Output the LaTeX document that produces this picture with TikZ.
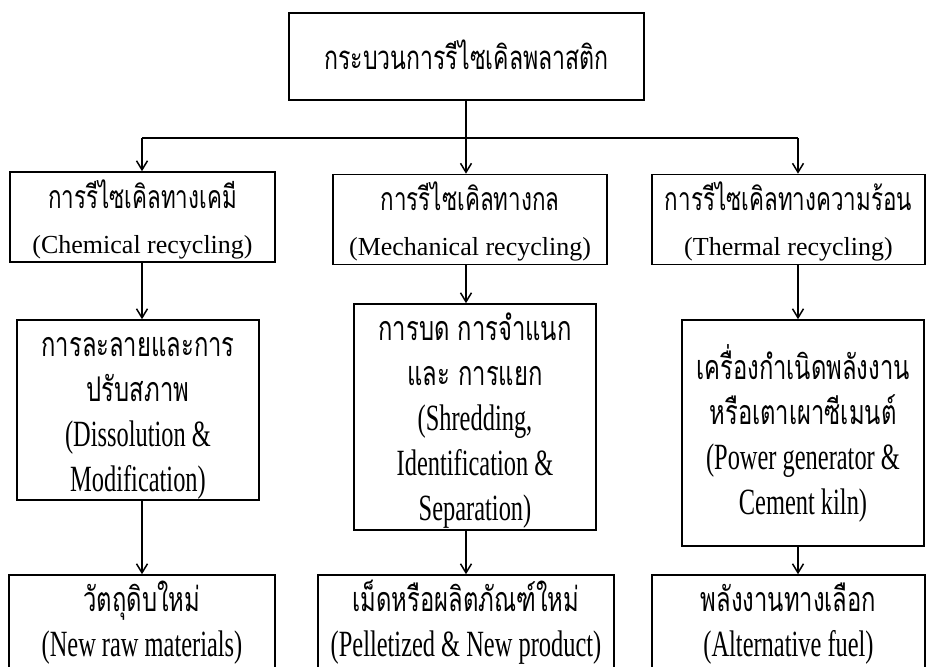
\documentclass[tikz,border=0pt]{standalone}
\usepackage{fontspec}
\setmainfont{Liberation Serif}
\newfontfamily\thaifont[Script=Thai,FakeStretch=0.7]{Loma}
\newfontfamily\narrowfont[FakeStretch=0.66]{Liberation Serif}
\usetikzlibrary{arrows.meta,calc}

% every line gets the same strut, so boxes centre their lines evenly
\newcommand{\linestrut}{\rule[-9pt]{0pt}{45pt}}
\newcommand{\thline}[2][32]{{\thaifont\fontsize{#1}{45}\selectfont\linestrut #2}}
\newcommand{\enline}[1]{{\fontsize{26}{45}\selectfont\linestrut #1}}
\newcommand{\nrline}[1]{{\narrowfont\fontsize{37}{45}\selectfont\linestrut #1}}
% last line of the cut-off boxes: a deeper strut lifts the text a little
\newcommand{\lastnrline}[1]{\nrline{#1}\rule[-21pt]{0pt}{0pt}}

\begin{document}
\begin{tikzpicture}[
  x=1pt, y=-1pt,
  font=\fontsize{25}{45}\selectfont,
  stage/.style={draw, line width=1.6pt, align=center, inner sep=0pt},
  link/.style={line width=1.5pt},
  flow/.style={link, -{Straight Barb[length=9pt,width=11pt,line width=1.5pt]}}
]
\useasboundingbox (0,0) rectangle (933,666);
\clip (0,0) rectangle (933,666);

% ---- root ----
\node[stage, minimum width=355, minimum height=87] (top) at (466.5,56.5)
  {\thline[33]{กระบวนการรีไซเคิลพลาสติก}};

% ---- first row: three routes ----
\node[stage, minimum width=265, minimum height=82] (chem) at (142.5,217)
  {\thline{การรีไซเคิลทางเคมี}\\\enline{(Chemical recycling)}};
\node[stage, minimum width=274, minimum height=87] (mech) at (470,219.5)
  {\thline{การรีไซเคิลทางกล}\\\enline{(Mechanical recycling)}};
\node[stage, minimum width=273, minimum height=87] (therm) at (788.5,219.5)
  {\thline{การรีไซเคิลทางความร้อน}\\\enline{(Thermal recycling)}};

% ---- second row: processes ----
\node[stage, minimum width=242, minimum height=180] (dissol) at (138,410)
  {\thline[34]{การละลายและการ}\\\thline[34]{ปรับสภาพ}\\\nrline{(Dissolution \&}\\\nrline{Modification)}};
\node[stage, minimum width=242, minimum height=226] (shred) at (475,417)
  {\thline[34]{การบด การจำแนก}\\\thline[34]{และ การแยก}\\\nrline{(Shredding,}\\\nrline{Identification \&}\\\nrline{Separation)}};
\node[stage, minimum width=242, minimum height=226] (power) at (803,433)
  {\thline[34]{เครื่องกำเนิดพลังงาน}\\\thline[34]{หรือเตาเผาซีเมนต์}\\\nrline{(Power generator \&}\\\nrline{Cement kiln)}};

% ---- third row: products (cut by the page edge) ----
\node[stage, minimum width=266, minimum height=84] (raw) at (142,626)
  {\thline[34]{วัตถุดิบใหม่}\\\lastnrline{(New raw materials)}};
\node[stage, minimum width=296, minimum height=84] (pellet) at (466,626)
  {\thline[34]{เม็ดหรือผลิตภัณฑ์ใหม่}\\\lastnrline{(Pelletized \& New product)}};
\node[stage, minimum width=273, minimum height=84] (fuel) at (788.5,626)
  {\thline[34]{พลังงานทางเลือก}\\\lastnrline{(Alternative fuel)}};

% ---- bus and arrows ----
\coordinate (bus) at (466,138);
\coordinate (busl) at (142,138);
\coordinate (busr) at (798,138);
\draw[link] (top.south -| bus) -- (bus);
\draw[link] (busl) -- (busr);
\draw[flow] (busl) -- (busl |- chem.north);
\draw[flow] (bus) -- (bus |- mech.north);
\draw[flow] (busr) -- (busr |- therm.north);
\draw[flow] (busl |- chem.south) -- (busl |- dissol.north);
\draw[flow] (bus |- mech.south) -- (bus |- shred.north);
\draw[flow] (busr |- therm.south) -- (busr |- power.north);
\draw[flow] (busl |- dissol.south) -- (busl |- raw.north);
\draw[flow] (bus |- shred.south) -- (bus |- pellet.north);
\draw[flow] (busr |- power.south) -- (busr |- fuel.north);

\end{tikzpicture}
\end{document}
